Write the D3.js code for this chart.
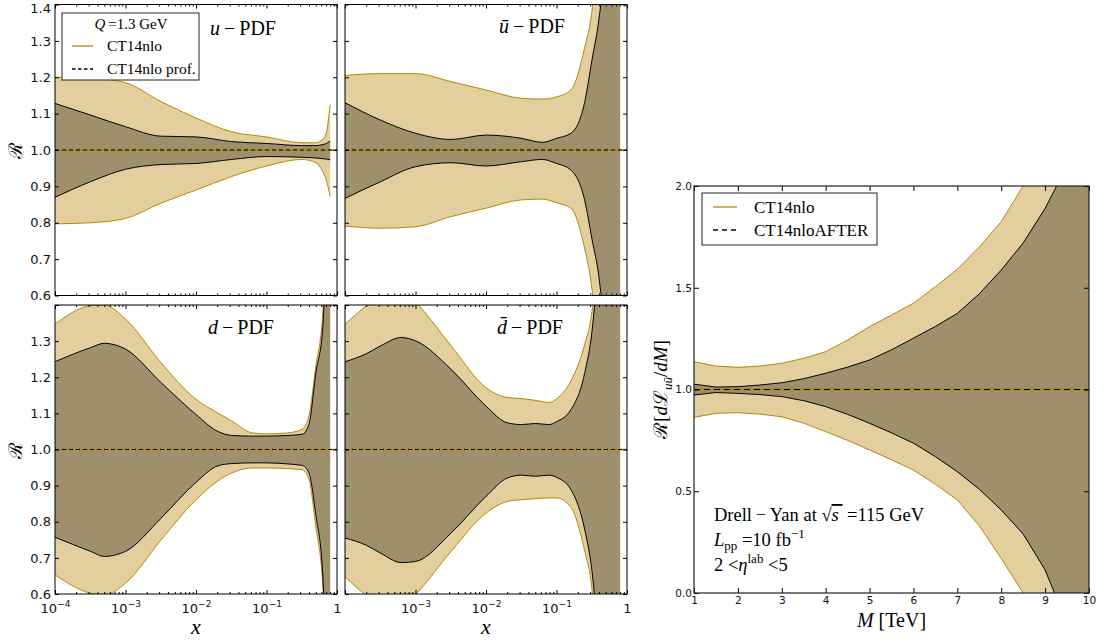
<!DOCTYPE html>
<html><head><meta charset="utf-8">
<script src="https://cdn.jsdelivr.net/npm/d3@7/dist/d3.min.js"></script>
<style>body{margin:0;background:#fff}svg{display:block}</style>
</head><body>
<svg id="chart" width="1104" height="644"></svg>
<script>
// ---------------- DATA ----------------
// u-PDF
const uX  = [1e-4, 3.2e-4, 1e-3, 3.2e-3, 1e-2, 3.2e-2, 0.1, 0.32, 0.5, 0.63, 0.71, 0.8];
const uGoldUp  = [1.200, 1.198, 1.185, 1.133, 1.088, 1.050, 1.036, 1.020, 1.020, 1.030, 1.050, 1.125];
const uBlackUp = [1.128, 1.096, 1.064, 1.038, 1.036, 1.023, 1.018, 1.012, 1.012, 1.015, 1.018, 1.025];
const uBlackLo = [0.870, 0.913, 0.947, 0.960, 0.963, 0.974, 0.982, 0.980, 0.978, 0.976, 0.975, 0.973];
const uGoldLo  = [0.797, 0.800, 0.812, 0.854, 0.890, 0.927, 0.956, 0.974, 0.965, 0.940, 0.915, 0.872];
// ubar-PDF
const ubX  = [1e-4, 3.2e-4, 1e-3, 3.2e-3, 1e-2, 3.2e-2, 6.3e-2, 0.1, 0.16, 0.25, 0.32, 0.4, 0.5, 0.63, 0.8];
const ubGoldUp  = [1.205, 1.210, 1.210, 1.188, 1.165, 1.142, 1.140, 1.146, 1.165, 1.280, 1.385, 1.60, 2.00, 2.60, 3.50];
const ubBlackUp = [1.130, 1.082, 1.046, 1.029, 1.041, 1.032, 1.021, 1.032, 1.046, 1.130, 1.250, 1.360, 1.55, 2.00, 3.00];
const ubBlackLo = [0.867, 0.913, 0.954, 0.965, 0.956, 0.968, 0.974, 0.963, 0.945, 0.863, 0.753, 0.650, 0.45, 0.00, -1.00];
const ubGoldLo  = [0.791, 0.785, 0.789, 0.817, 0.840, 0.863, 0.865, 0.855, 0.840, 0.730, 0.615, 0.400, 0.00, -0.60, -1.50];
// d-PDF
const dX  = [1e-4, 3.2e-4, 5e-4, 1e-3, 3.2e-3, 1e-2, 2e-2, 3.2e-2, 6.3e-2, 0.1, 0.2, 0.32, 0.4, 0.5, 0.63, 0.8];
const dGoldUp  = [1.347, 1.398, 1.400, 1.361, 1.240, 1.139, 1.102, 1.079, 1.046, 1.043, 1.046, 1.056, 1.093, 1.230, 1.380, 2.50];
const dBlackUp = [1.243, 1.282, 1.294, 1.278, 1.185, 1.097, 1.051, 1.039, 1.037, 1.037, 1.039, 1.042, 1.070, 1.210, 1.340, 2.20];
const dBlackLo = [0.757, 0.718, 0.704, 0.718, 0.810, 0.909, 0.954, 0.961, 0.963, 0.963, 0.960, 0.956, 0.935, 0.820, 0.650, -0.20];
const dGoldLo  = [0.653, 0.602, 0.597, 0.630, 0.750, 0.861, 0.912, 0.935, 0.949, 0.949, 0.947, 0.944, 0.917, 0.787, 0.620, -0.50];
// dbar-PDF
const dbX  = [1e-4, 2e-4, 3.2e-4, 6.3e-4, 1e-3, 3.2e-3, 1e-2, 2e-2, 3.2e-2, 5e-2, 7.9e-2, 0.1, 0.16, 0.25, 0.32, 0.4, 0.5, 0.63, 0.8];
const dbGoldUp  = [1.347, 1.398, 1.430, 1.450, 1.410, 1.287, 1.171, 1.144, 1.141, 1.136, 1.130, 1.140, 1.190, 1.290, 1.385, 1.60, 2.00, 2.60, 3.50];
const dbBlackUp = [1.243, 1.265, 1.287, 1.310, 1.301, 1.222, 1.120, 1.074, 1.069, 1.072, 1.069, 1.077, 1.110, 1.210, 1.330, 1.55, 1.80, 2.30, 3.00];
const dbBlackLo = [0.755, 0.735, 0.713, 0.687, 0.690, 0.769, 0.870, 0.921, 0.929, 0.926, 0.929, 0.923, 0.889, 0.780, 0.660, 0.45, 0.20, -0.30, -1.00];
const dbGoldLo  = [0.648, 0.597, 0.575, 0.560, 0.598, 0.718, 0.824, 0.856, 0.861, 0.864, 0.866, 0.866, 0.840, 0.720, 0.610, 0.35, 0.00, -0.60, -1.50];
// Drell-Yan luminosity ratio
const mTeV = [1, 1.5, 2, 2.5, 3, 3.5, 4, 4.5, 5, 5.5, 6, 6.5, 7, 7.5, 8, 8.5, 9, 9.5, 10];
const lumGoldUp  = [1.137, 1.115, 1.109, 1.115, 1.129, 1.153, 1.186, 1.243, 1.309, 1.366, 1.424, 1.505, 1.591, 1.700, 1.825, 2.000, 2.200, 2.400, 2.600];
const lumBlackUp = [1.026, 1.012, 1.014, 1.022, 1.033, 1.053, 1.080, 1.110, 1.145, 1.195, 1.252, 1.310, 1.374, 1.470, 1.587, 1.720, 1.890, 2.100, 2.350];
const lumBlackLo = [0.973, 0.985, 0.981, 0.975, 0.965, 0.945, 0.916, 0.878, 0.834, 0.787, 0.736, 0.670, 0.596, 0.510, 0.408, 0.290, 0.113, -0.150, -0.400];
const lumGoldLo  = [0.863, 0.883, 0.886, 0.879, 0.866, 0.835, 0.793, 0.750, 0.703, 0.655, 0.604, 0.535, 0.457, 0.330, 0.170, 0.000, -0.200, -0.400, -0.600];

// ticks / labels
const xMajorTicks = [1e-4, 1e-3, 1e-2, 1e-1, 1];
const xTickBase = ["10", "10", "10", "10", "1"];
const xTickExp  = ["\u22124", "\u22123", "\u22122", "\u22121", ""];
const xMinorTicks = [2e-4,3e-4,4e-4,5e-4,6e-4,7e-4,8e-4,9e-4,2e-3,3e-3,4e-3,5e-3,6e-3,7e-3,8e-3,9e-3,
                     2e-2,3e-2,4e-2,5e-2,6e-2,7e-2,8e-2,9e-2,0.2,0.3,0.4,0.5,0.6,0.7,0.8,0.9];
const rTicks = [0.6, 0.7, 0.8, 0.9, 1.0, 1.1, 1.2, 1.3, 1.4];
const rTickLabels = ["0.6", "0.7", "0.8", "0.9", "1.0", "1.1", "1.2", "1.3", "1.4"];
const mTicks = [1, 2, 3, 4, 5, 6, 7, 8, 9, 10];
const lumTicks = [0, 0.5, 1.0, 1.5, 2.0];
const lumTickLabels = ["0.0", "0.5", "1.0", "1.5", "2.0"];

// ---------------- STYLE ----------------
const GOLD = "#b8860b";
const GOLD_FILL = "#e3cf9d";
const SERIF = "'Liberation Serif', 'DejaVu Serif', serif";
const SANS = "'DejaVu Sans', sans-serif";

const svg = d3.select("#chart");
const defs = svg.append("defs");

function bandPlot(plot, data, x, y, curve) {
  const area = (lo, hi) => d3.area().x(d => x(d.x)).y0(d => y(d[lo])).y1(d => y(d[hi])).curve(curve);
  const line = (k) => d3.line().x(d => x(d.x)).y(d => y(d[k])).curve(curve);
  plot.append("path").datum(data).attr("d", area("gl", "gu")).attr("fill", GOLD_FILL);
  plot.append("path").datum(data).attr("d", area("bl", "bu")).attr("fill", "#000").attr("fill-opacity", 0.3);
  ["gu", "gl"].forEach(k => plot.append("path").datum(data).attr("d", line(k))
      .attr("fill", "none").attr("stroke", GOLD).attr("stroke-width", 1));
  ["bu", "bl"].forEach(k => plot.append("path").datum(data).attr("d", line(k))
      .attr("fill", "none").attr("stroke", "#000").attr("stroke-width", 1));
}

function pdfPanel(p) {
  const x = d3.scaleLog().domain([1e-4, 1]).range([p.x0, p.x1]);
  const y = d3.scaleLinear().domain([0.6, 1.4]).range([p.y1, p.y0]);
  defs.append("clipPath").attr("id", "clip" + p.id).append("rect")
    .attr("x", p.x0).attr("y", p.y0).attr("width", p.x1 - p.x0).attr("height", p.y1 - p.y0);
  const g = svg.append("g");
  const plot = g.append("g").attr("clip-path", `url(#clip${p.id})`);
  const data = p.xs.map((v, i) => ({x: v, gu: p.gu[i], gl: p.gl[i], bu: p.bu[i], bl: p.bl[i]}));
  bandPlot(plot, data, x, y, d3.curveMonotoneX);
  const center = [{x: 1e-4, r: 1}, {x: 1, r: 1}];
  const cl = d3.line().x(d => x(d.x)).y(d => y(d.r));
  plot.append("path").datum(center).attr("d", cl).attr("stroke", GOLD).attr("stroke-width", 1.6).attr("fill", "none");
  plot.append("path").datum(center).attr("d", cl).attr("stroke", "#000").attr("stroke-width", 1.1)
    .attr("stroke-dasharray", "4,3").attr("fill", "none");

  const strip = s => s.select(".domain").remove();
  // x axes
  const bx = g.append("g").attr("transform", `translate(0,${p.y1})`)
    .call(d3.axisBottom(x).tickValues(xMajorTicks).tickSize(-4).tickSizeOuter(0).tickPadding(7).tickFormat(() => ""))
    .call(strip);
  g.append("g").attr("transform", `translate(0,${p.y1})`)
    .call(d3.axisBottom(x).tickValues(xMinorTicks).tickSize(-2).tickSizeOuter(0).tickFormat(() => "")).call(strip);
  g.append("g").attr("transform", `translate(0,${p.y0})`)
    .call(d3.axisTop(x).tickValues(xMajorTicks).tickSize(-4).tickSizeOuter(0).tickFormat(() => "")).call(strip);
  g.append("g").attr("transform", `translate(0,${p.y0})`)
    .call(d3.axisTop(x).tickValues(xMinorTicks).tickSize(-2).tickSizeOuter(0).tickFormat(() => "")).call(strip);
  if (p.showX) {
    bx.selectAll(".tick text").each(function(d, i) {
      const t = d3.select(this);
      if (i < p.xFirst) return;
      t.attr("font-family", SANS).attr("font-size", 13).attr("fill", "#111").attr("dy", "0.95em");
      t.append("tspan").text(xTickBase[i]);
      if (xTickExp[i]) t.append("tspan").attr("font-size", 9).attr("dy", "-0.75em").text(xTickExp[i]);
    });
  }
  // y axes
  g.append("g").attr("transform", `translate(${p.x0},0)`)
    .call(d3.axisLeft(y).tickValues(rTicks).tickSize(-4).tickSizeOuter(0).tickPadding(4)
      .tickFormat((d, i) => p.showY && !(p.noTop && i === rTicks.length - 1) ? rTickLabels[i] : ""))
    .call(strip)
    .call(s => s.selectAll("text").attr("font-family", SANS).attr("font-size", 13).attr("fill", "#111")
      .filter(d => d === 1.4).attr("dy", "0.6em"));
  g.append("g").attr("transform", `translate(${p.x1},0)`)
    .call(d3.axisRight(y).tickValues(rTicks).tickSize(-4).tickSizeOuter(0).tickFormat(() => "")).call(strip);
  g.selectAll(".tick line").attr("stroke", "#000");
  g.append("rect").attr("x", p.x0).attr("y", p.y0).attr("width", p.x1 - p.x0).attr("height", p.y1 - p.y0)
    .attr("fill", "none").attr("stroke", "#000").attr("stroke-width", 1);
  // title
  const tt = g.append("text").attr("x", p.tx).attr("y", p.ty).attr("font-family", SERIF).attr("font-size", 20);
  tt.append("tspan").attr("font-style", "italic").text(p.q);
  tt.append("tspan").text("\u2009\u2212\u2009PDF");
  return {x, y, g};
}

pdfPanel({id: "tl", x0: 55, x1: 337, y0: 4.5, y1: 295.5, xs: uX, gu: uGoldUp, gl: uGoldLo, bu: uBlackUp, bl: uBlackLo,
  showX: false, showY: true, tx: 210, ty: 35, q: "u"});
pdfPanel({id: "tr", x0: 345, x1: 627, y0: 4.5, y1: 295.5, xs: ubX, gu: ubGoldUp, gl: ubGoldLo, bu: ubBlackUp, bl: ubBlackLo,
  showX: false, showY: false, tx: 499, ty: 33, q: "\u016B"});
pdfPanel({id: "bl", x0: 55, x1: 337, y0: 305, y1: 594, xs: dX, gu: dGoldUp, gl: dGoldLo, bu: dBlackUp, bl: dBlackLo,
  showX: true, xFirst: 0, showY: true, noTop: true, tx: 208, ty: 334, q: "d"});
pdfPanel({id: "br", x0: 345, x1: 627, y0: 305, y1: 594, xs: dbX, gu: dbGoldUp, gl: dbGoldLo, bu: dbBlackUp, bl: dbBlackLo,
  showX: true, xFirst: 1, showY: false, tx: 497, ty: 334, q: "d\u0304"});

// axis labels for PDF panels
[[150], [450]].forEach(([cy]) => {
  svg.append("text").attr("transform", `translate(22,${cy}) rotate(-90)`).attr("text-anchor", "middle")
    .attr("font-family", "'DejaVu Serif', serif").attr("font-size", 19).text("\u211B");
});
[196, 486].forEach(cx => {
  svg.append("text").attr("x", cx).attr("y", 634).attr("text-anchor", "middle")
    .attr("font-family", SERIF).attr("font-style", "italic").attr("font-size", 22).text("x");
});

// legend top-left
const lg = svg.append("g");
lg.append("rect").attr("x", 62).attr("y", 13).attr("width", 137).attr("height", 67)
  .attr("fill", "#fff").attr("stroke", "#222").attr("stroke-width", 1);
const lt = lg.append("text").attr("x", 131).attr("y", 29).attr("text-anchor", "middle")
  .attr("font-family", SERIF).attr("font-size", 15);
lt.append("tspan").attr("font-style", "italic").text("Q");
lt.append("tspan").text("\u2009=1.3 GeV");
lg.append("line").attr("x1", 72).attr("x2", 93).attr("y1", 46).attr("y2", 46).attr("stroke", GOLD).attr("stroke-width", 1.3);
lg.append("text").attr("x", 107).attr("y", 51).attr("font-family", SERIF).attr("font-size", 15.5).text("CT14nlo");
lg.append("line").attr("x1", 72).attr("x2", 93).attr("y1", 69).attr("y2", 69).attr("stroke", "#000").attr("stroke-width", 1.3)
  .attr("stroke-dasharray", "3.5,2.5");
lg.append("text").attr("x", 107).attr("y", 74).attr("font-family", SERIF).attr("font-size", 15.5).text("CT14nlo prof.");

// ---------------- Right panel ----------------
(function () {
  const x0 = 694, x1 = 1089, y0 = 186, y1 = 593;
  const x = d3.scaleLinear().domain([1, 10]).range([x0, x1]);
  const y = d3.scaleLinear().domain([0, 2]).range([y1, y0]);
  defs.append("clipPath").attr("id", "clipR").append("rect")
    .attr("x", x0).attr("y", y0).attr("width", x1 - x0).attr("height", y1 - y0);
  const g = svg.append("g");
  const plot = g.append("g").attr("clip-path", "url(#clipR)");
  const data = mTeV.map((v, i) => ({x: v, gu: lumGoldUp[i], gl: lumGoldLo[i], bu: lumBlackUp[i], bl: lumBlackLo[i]}));
  bandPlot(plot, data, x, y, d3.curveLinear);
  const center = [{x: 1, r: 1}, {x: 10, r: 1}];
  const cl = d3.line().x(d => x(d.x)).y(d => y(d.r));
  plot.append("path").datum(center).attr("d", cl).attr("stroke", GOLD).attr("stroke-width", 1.8).attr("fill", "none");
  plot.append("path").datum(center).attr("d", cl).attr("stroke", "#000").attr("stroke-width", 1.2)
    .attr("stroke-dasharray", "6,4").attr("fill", "none");
  const strip = s => s.select(".domain").remove();
  g.append("g").attr("transform", `translate(0,${y1})`)
    .call(d3.axisBottom(x).tickValues(mTicks).tickSize(-5).tickSizeOuter(0).tickPadding(4).tickFormat(d3.format("d")))
    .call(strip).call(s => s.selectAll("text").attr("font-family", SANS).attr("font-size", 10.5).attr("fill", "#111"));
  g.append("g").attr("transform", `translate(0,${y0})`)
    .call(d3.axisTop(x).tickValues(mTicks).tickSize(-5).tickSizeOuter(0).tickFormat(() => "")).call(strip);
  g.append("g").attr("transform", `translate(${x0},0)`)
    .call(d3.axisLeft(y).tickValues(lumTicks).tickSize(-5).tickSizeOuter(0).tickPadding(2).tickFormat((d, i) => lumTickLabels[i]))
    .call(strip).call(s => s.selectAll("text").attr("font-family", SANS).attr("font-size", 10.5).attr("fill", "#111"));
  g.append("g").attr("transform", `translate(${x1},0)`)
    .call(d3.axisRight(y).tickValues(lumTicks).tickSize(-5).tickSizeOuter(0).tickFormat(() => "")).call(strip);
  g.selectAll(".tick line").attr("stroke", "#000");
  g.append("rect").attr("x", x0).attr("y", y0).attr("width", x1 - x0).attr("height", y1 - y0)
    .attr("fill", "none").attr("stroke", "#222").attr("stroke-width", 1.2);

  // legend
  g.append("rect").attr("x", 702).attr("y", 193).attr("width", 175).attr("height", 52)
    .attr("fill", "#fff").attr("stroke", "#222").attr("stroke-width", 1);
  g.append("line").attr("x1", 713).attr("x2", 737).attr("y1", 207).attr("y2", 207).attr("stroke", GOLD).attr("stroke-width", 1.3);
  g.append("text").attr("x", 754).attr("y", 213).attr("font-family", SERIF).attr("font-size", 17).text("CT14nlo");
  g.append("line").attr("x1", 713).attr("x2", 737).attr("y1", 230).attr("y2", 230).attr("stroke", "#000").attr("stroke-width", 1.3)
    .attr("stroke-dasharray", "5,4");
  g.append("text").attr("x", 754).attr("y", 236).attr("font-family", SERIF).attr("font-size", 17).text("CT14nloAFTER");

  // annotations
  const FS = 18.5, SUB = 13;
  const a1 = g.append("text").attr("x", 714).attr("y", 521).attr("font-family", SERIF).attr("font-size", FS);
  a1.append("tspan").text("Drell\u2009\u2212\u2009Yan at \u221A");
  a1.append("tspan").attr("font-style", "italic").attr("text-decoration", "overline").text("s\u2009");
  a1.append("tspan").text(" =115 GeV");
  const a2 = g.append("text").attr("x", 714).attr("y", 546).attr("font-family", SERIF).attr("font-size", FS);
  a2.append("tspan").attr("font-style", "italic").text("L");
  a2.append("tspan").attr("font-size", SUB).attr("dy", 4).text("pp");
  a2.append("tspan").attr("dy", -4).text(" =10 fb");
  a2.append("tspan").attr("font-size", SUB).attr("dy", -8).text("\u22121");
  const a3 = g.append("text").attr("x", 714).attr("y", 571).attr("font-family", SERIF).attr("font-size", FS);
  a3.append("tspan").text("2 <");
  a3.append("tspan").attr("font-style", "italic").text("\u03B7");
  a3.append("tspan").attr("font-size", SUB).attr("dy", -8).text("lab");
  a3.append("tspan").attr("dy", 8).text(" <5");

  // axis labels
  const xl = g.append("text").attr("x", (x0 + x1) / 2).attr("y", 627).attr("text-anchor", "middle")
    .attr("font-family", SERIF).attr("font-size", 20);
  xl.append("tspan").attr("font-style", "italic").text("M");
  xl.append("tspan").text(" [TeV]");
  const yl = g.append("text").attr("transform", `translate(667,${(y0 + y1) / 2}) rotate(-90)`).attr("text-anchor", "middle")
    .attr("font-family", SERIF).attr("font-size", 19);
  yl.append("tspan").attr("font-family", "'DejaVu Serif', serif").text("\u211B");
  yl.append("tspan").text("[");
  yl.append("tspan").attr("font-style", "italic").text("d");
  yl.append("tspan").attr("font-family", "'DejaVu Serif', serif").text("\u2112");
  yl.append("tspan").attr("font-style", "italic").attr("font-size", 13).attr("dy", 5).text("u\u016B");
  yl.append("tspan").attr("dy", -5).text("/");
  yl.append("tspan").attr("font-style", "italic").text("dM");
  yl.append("tspan").text("]");
})();
</script>
</body></html>
